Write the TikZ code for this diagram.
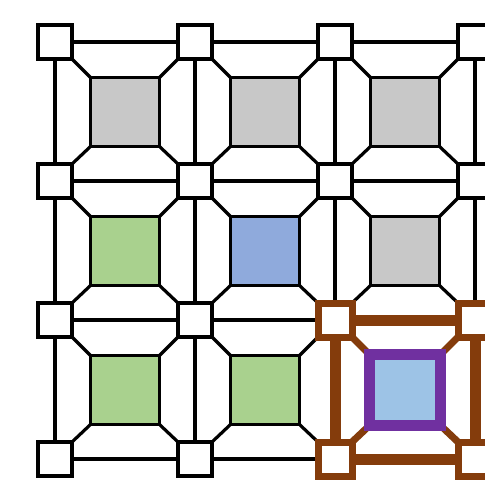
\documentclass[tikz,border=0pt]{standalone}
\usepackage{xcolor}
\usepackage{tikz}
\definecolor{cellgray}{RGB}{200, 200, 200}
\definecolor{cellgreen}{RGB}{169, 209, 142}
\definecolor{cellblue}{RGB}{143, 170, 220}
\definecolor{celllight}{RGB}{157, 195, 230}
\definecolor{markpurple}{RGB}{112, 48, 160}
\definecolor{markbrown}{RGB}{132, 60, 12}

\begin{document}
\begin{tikzpicture}[
    x=1pt, y=-1pt,
    pad/.style={rectangle, draw, fill=white, line width=3.5pt,
                minimum size=34pt, inner sep=0pt, outer sep=0pt},
    cell/.style={rectangle, draw, line width=3.5pt,
                 minimum size=69pt, inner sep=0pt, outer sep=0pt},
    wire/.style={line width=3.2pt},
    hotpad/.style={draw=markbrown, line width=7pt},
    hotwire/.style={draw=markbrown, line width=11pt},
    hotlink/.style={draw=markbrown, line width=7pt},
  ]
  \useasboundingbox (0,0) rectangle (485,483);

  % ── Corner pads and cells ────────────────────────
  \foreach \i in {0,...,3}
    \foreach \j in {0,...,3}
      \node[pad] (p-\i-\j) at ({55+140*\i}, {42+139*\j}) {};

  \foreach \i/\j/\col in {0/0/cellgray, 1/0/cellgray, 2/0/cellgray,
                          0/1/cellgreen, 1/1/cellblue, 2/1/cellgray,
                          0/2/cellgreen, 1/2/cellgreen, 2/2/celllight}
    \node[cell, fill=\col] (c-\i-\j) at ({125+140*\i}, {112+139*\j}) {};

  % ── Grid wires ───────────────────────────────────
  \foreach \i [evaluate=\i as \k using int(\i+1)] in {0,1,2}{
    \foreach \j in {0,...,3}{
      \draw[wire] (p-\i-\j) -- (p-\k-\j);
      \draw[wire] (p-\j-\i) -- (p-\j-\k);
    }
  }

  % ── Links from cells to pads ─────────────────────
  \foreach \i [evaluate=\i as \k using int(\i+1)] in {0,1,2}{
    \foreach \j [evaluate=\j as \m using int(\j+1)] in {0,1,2}{
      \draw[wire] (c-\i-\j.north west) -- (p-\i-\j.south east);
      \draw[wire] (c-\i-\j.north east) -- (p-\k-\j.south west);
      \draw[wire] (c-\i-\j.south west) -- (p-\i-\m.north east);
      \draw[wire] (c-\i-\j.south east) -- (p-\k-\m.north west);
    }
  }

  % ── Highlighted cell ─────────────────────────────
  \draw[hotwire] (p-2-2) -- (p-3-2);
  \draw[hotwire] (p-2-3) -- (p-3-3);
  \draw[hotwire] (p-2-2) -- (p-2-3);
  \draw[hotwire] (p-3-2) -- (p-3-3);

  \draw[hotlink] (c-2-2.north west) -- (p-2-2.south east);
  \draw[hotlink] (c-2-2.north east) -- (p-3-2.south west);
  \draw[hotlink] (c-2-2.south west) -- (p-2-3.north east);
  \draw[hotlink] (c-2-2.south east) -- (p-3-3.north west);

  \foreach \i/\j in {2/2, 3/2, 2/3, 3/3}
    \node[pad, hotpad] (h-\i-\j) at (p-\i-\j) {};

  \node[cell, draw=markpurple, fill=celllight, line width=11pt,
        minimum size=71pt] (hc) at (c-2-2) {};

\end{tikzpicture}
\end{document}
